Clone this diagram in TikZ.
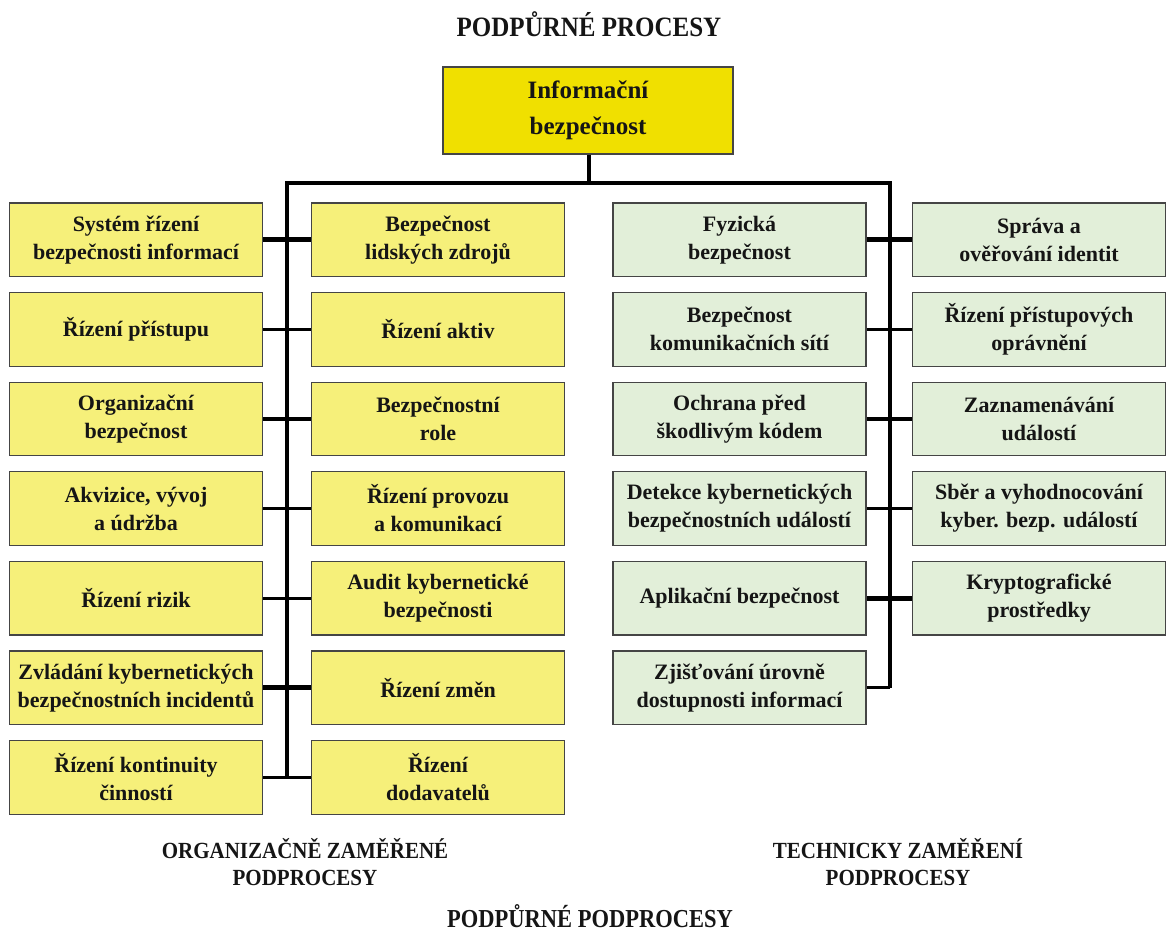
\documentclass[tikz,border=0pt]{standalone}
\usepackage{fontspec}
\setmainfont{Liberation Serif}
\definecolor{boxyellow}{HTML}{F6F07A}
\definecolor{topyellow}{HTML}{F0E000}
\definecolor{boxgreen}{HTML}{E2EFD9}
\definecolor{edge}{HTML}{454545}
\definecolor{ink}{HTML}{151515}
\newcommand{\tall}[1]{\scalebox{1}[1.1]{#1}}

\begin{document}
\begin{tikzpicture}[x=1pt,y=-1pt,
  box/.style={draw=edge, line width=1.2pt, minimum width=253pt, minimum height=73.5pt,
    inner sep=0pt, align=center, font=\bfseries\fontsize{22}{28}\selectfont, text=ink},
  orgbox/.style={box, fill=boxyellow},
  techbox/.style={box, fill=boxgreen},
  headbox/.style={box, fill=topyellow, minimum width=290pt, minimum height=87pt,
    font=\bfseries\fontsize{25}{36}\selectfont},
  link/.style={line width=3.3pt, draw=black},
  heavylink/.style={link, line width=5pt},
  title/.style={font=\bfseries\fontsize{25}{30}\selectfont, text=ink, anchor=base},
  subtitle/.style={font=\bfseries\fontsize{21}{27}\selectfont, text=ink, align=center}]

\useasboundingbox (0,0) rectangle (1166,932);

% headings
\node[title] (head) at (589,36) {\scalebox{1}[1.12]{PODPŮRNÉ PROCESY}};
\node[title, font=\bfseries\fontsize{22.5}{28}\selectfont] (foot) at (590,927)
  {\scalebox{1}[1.15]{PODPŮRNÉ PODPROCESY}};
\node[subtitle] (orgcap) at (305,862) {\tall{ORGANIZAČNĚ ZAMĚŘENÉ}\\\tall{PODPROCESY}};
\node[subtitle] (techcap) at (898,862) {\tall{TECHNICKY ZAMĚŘENÍ}\\\tall{PODPROCESY}};

% root
\node[headbox] (root) at (588,110.5) {Informační\\bezpečnost};

% organisational sub-processes
\node[orgbox] (L1) at (136,239.75) {Systém řízení\\bezpečnosti informací};
\node[orgbox] (L2) at (136,329.35) {Řízení přístupu};
\node[orgbox] (L3) at (136,418.95) {Organizační\\bezpečnost};
\node[orgbox] (L4) at (136,508.55) {Akvizice, vývoj\\a údržba};
\node[orgbox] (L5) at (136,598.15) {Řízení rizik};
\node[orgbox] (L6) at (136,687.75) {Zvládání kybernetických\\bezpečnostních incidentů};
\node[orgbox] (L7) at (136,777.35) {Řízení kontinuity\\činností};

\node[orgbox] (M1) at (438,239.75) {Bezpečnost\\lidských zdrojů};
\node[orgbox] (M2) at (438,329.35) {Řízení aktiv};
\node[orgbox] (M3) at (438,418.95) {Bezpečnostní\\role};
\node[orgbox] (M4) at (438,508.55) {Řízení provozu\\a komunikací};
\node[orgbox] (M5) at (438,598.15) {Audit kybernetické\\bezpečnosti};
\node[orgbox] (M6) at (438,687.75) {Řízení změn};
\node[orgbox] (M7) at (438,777.35) {Řízení\\dodavatelů};

% technical sub-processes
\node[techbox] (G1) at (739.5,239.75) {Fyzická\\bezpečnost};
\node[techbox] (G2) at (739.5,329.35) {Bezpečnost\\komunikačních sítí};
\node[techbox] (G3) at (739.5,418.95) {Ochrana před\\škodlivým kódem};
\node[techbox] (G4) at (739.5,508.55) {Detekce kybernetických\\bezpečnostních událostí};
\node[techbox] (G5) at (739.5,598.15) {Aplikační bezpečnost};
\node[techbox] (G6) at (739.5,687.75) {Zjišťování úrovně\\dostupnosti informací};

\node[techbox] (H1) at (1039,239.75) {Správa a\\ověřování identit};
\node[techbox] (H2) at (1039,329.35) {Řízení přístupových\\oprávnění};
\node[techbox] (H3) at (1039,418.95) {Zaznamenávání\\událostí};
\node[techbox] (H4) at (1039,508.55) {Sběr a vyhodnocování\\kyber. bezp. událostí};
\node[techbox] (H5) at (1039,598.15) {Kryptografické\\prostředky};

% bus and trunks
\coordinate (busC) at (589,183);
\coordinate (busL) at (287,183);
\coordinate (busR) at (890,183);

\draw[link] (root.south -| busC) -- (busC);
\draw[link, line cap=rect] (busL) -- (busR);
\draw[link] (busL) -- (busL |- L7.east);
\draw[link] (busR) -- (busR |- G6.east);

% branches
\draw[heavylink] (L1.east) -- (M1.west);
\draw[link] (L2.east) -- (M2.west);
\draw[link] (L3.east) -- (M3.west);
\draw[link] (L4.east) -- (M4.west);
\draw[link] (L5.east) -- (M5.west);
\draw[heavylink] (L6.east) -- (M6.west);
\draw[link] (L7.east) -- (M7.west);

\draw[heavylink] (G1.east) -- (H1.west);
\draw[link] (G2.east) -- (H2.west);
\draw[link] (G3.east) -- (H3.west);
\draw[link] (G4.east) -- (H4.west);
\draw[heavylink] (G5.east) -- (H5.west);
\draw[link] (G6.east) -- (G6.east -| busR);

\end{tikzpicture}
\end{document}
